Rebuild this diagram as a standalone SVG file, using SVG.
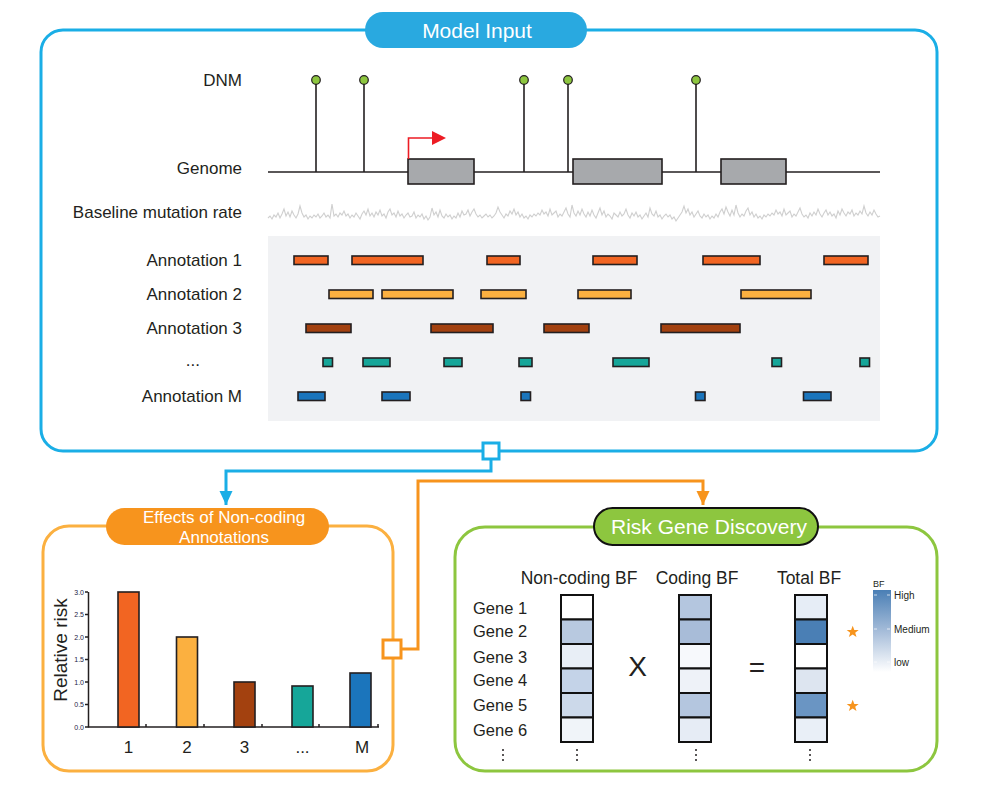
<svg xmlns="http://www.w3.org/2000/svg" width="981" height="793" viewBox="0 0 981 793">
<defs>
<style>
text{font-family:"Liberation Sans",Arial,sans-serif;fill:#231f20}
.lbl{font-size:17px;text-anchor:end}
.pill{fill:#fff;text-anchor:middle}
.bar{stroke:#231f20;stroke-width:1.6}
.a1{fill:#f26522}.a2{fill:#fbb040}.a3{fill:#a3410f}.a4{fill:#16a699}.a5{fill:#1b75bc}
.stem{stroke:#231f20;stroke-width:1.6}
.dot{fill:#8dc63f;stroke:#231f20;stroke-width:1.2}
.gene{fill:#a7a9ac;stroke:#231f20;stroke-width:1.6}
.cell{stroke:#111;stroke-width:2}
.gl{font-size:16.5px}
.tick{font-size:7px;text-anchor:end;fill:#1d2246}
</style>
<marker id="arrB" markerUnits="userSpaceOnUse" markerWidth="14" markerHeight="14" refX="14" refY="6.5" orient="auto"><path d="M0,0 L14,6.5 L0,13 z" fill="#1aaee6"/></marker>
<marker id="arrO" markerUnits="userSpaceOnUse" markerWidth="14" markerHeight="14" refX="14" refY="6.5" orient="auto"><path d="M0,0 L14,6.5 L0,13 z" fill="#f7941d"/></marker>
<linearGradient id="bfg" x1="0" y1="0" x2="0" y2="1"><stop offset="0" stop-color="#4a7fb5"/><stop offset="0.5" stop-color="#a5bcd9"/><stop offset="1" stop-color="#ffffff"/></linearGradient>
</defs>

<g id="model-input">
<rect x="41" y="30" width="896" height="421" rx="22" fill="none" stroke="#1aaee6" stroke-width="3"/>
<rect x="365" y="12" width="222" height="36" rx="18" fill="#29a9e0"/>
<text class="pill" x="477" y="37.5" font-size="21">Model Input</text>
<text class="lbl" x="242" y="86">DNM</text>
<text class="lbl" x="242" y="174">Genome</text>
<text class="lbl" x="242" y="218">Baseline mutation rate</text>
<text class="lbl" x="242" y="266">Annotation 1</text>
<text class="lbl" x="242" y="300">Annotation 2</text>
<text class="lbl" x="242" y="334">Annotation 3</text>
<text class="lbl" x="200" y="366">...</text>
<text class="lbl" x="242" y="402">Annotation M</text>
<line x1="268" y1="172" x2="880" y2="172" stroke="#231f20" stroke-width="1.6"/>
<g class="stem"><line x1="316" y1="80" x2="316" y2="172"/><line x1="364" y1="80" x2="364" y2="172"/><line x1="524" y1="80" x2="524" y2="172"/><line x1="568" y1="80" x2="568" y2="172"/><line x1="696" y1="80" x2="696" y2="172"/></g>
<circle class="dot" cx="316" cy="80" r="4.3"/><circle class="dot" cx="364" cy="80" r="4.3"/><circle class="dot" cx="524" cy="80" r="4.3"/><circle class="dot" cx="568" cy="80" r="4.3"/><circle class="dot" cx="696" cy="80" r="4.3"/>
<rect class="gene" x="408" y="159" width="66" height="25"/>
<rect class="gene" x="573" y="159" width="89" height="25"/>
<rect class="gene" x="721" y="159" width="65" height="25"/>
<path d="M408.5,159 V138 H434" fill="none" stroke="#ed1c24" stroke-width="1.6"/>
<path d="M432,131 L446,138 L432,145 z" fill="#ed1c24"/>
<polyline fill="none" stroke="#cfcfcf" stroke-width="1.1" points="268,218 270,216 272,219 274,215 276,217 278,213 280,218 282,214 284,209 286,216 288,212 290,217 292,211 294,215 296,218 298,214 300,206 302,213 304,217 306,215 308,219 310,216 312,218 314,215 316,217 318,214 320,218 322,216 324,213 326,217 328,215 330,218 332,204 334,216 336,214 338,217 340,213 342,215 344,211 346,216 348,214 350,218 352,215 354,217 356,213 358,216 360,219 362,214 364,211 366,215 368,209 370,216 372,213 374,217 376,212 378,215 380,210 382,216 384,214 386,218 388,212 390,209 392,215 394,213 396,217 398,211 400,216 402,214 404,218 406,215 408,213 410,217 412,216 414,212 416,218 418,215 420,217 422,214 424,219 426,216 428,220 430,217 432,208 434,215 436,212 438,217 440,210 442,216 444,218 446,214 448,217 450,215 452,219 454,216 456,218 458,213 460,217 462,211 464,215 466,214 468,210 470,216 472,212 474,209 476,214 478,217 480,215 482,218 484,216 486,214 488,217 490,215 492,218 494,216 496,213 498,207 500,212 502,215 504,218 506,214 508,216 510,211 512,214 514,209 516,215 518,212 520,217 522,214 524,218 526,216 528,219 530,215 532,217 534,214 536,216 538,213 540,215 542,210 544,214 546,212 548,216 550,209 552,215 554,213 556,211 558,217 560,214 562,216 564,212 566,208 568,214 570,217 572,205 574,213 576,216 578,211 580,215 582,209 584,214 586,217 588,212 590,216 592,210 594,215 596,218 598,213 600,208 602,215 604,211 606,217 608,214 610,216 612,219 614,213 616,215 618,217 620,212 622,216 624,214 626,209 628,215 630,218 632,213 634,216 636,212 638,217 640,215 642,219 644,216 646,213 648,217 650,208 652,214 654,216 656,211 658,217 660,215 662,219 664,216 666,214 668,217 670,215 672,219 674,217 676,221 678,218 680,215 682,212 684,206 686,213 688,209 690,215 692,212 694,217 696,214 698,211 700,216 702,218 704,214 706,217 708,215 710,219 712,216 714,218 716,214 718,217 720,212 722,209 724,214 726,207 728,212 730,216 732,210 734,215 736,205 738,213 740,217 742,214 744,216 746,211 748,208 750,215 752,212 754,217 756,214 758,218 760,216 762,219 764,215 766,217 768,214 770,216 772,213 774,215 776,210 778,214 780,212 782,216 784,209 786,215 788,213 790,211 792,217 794,214 796,216 798,212 800,208 802,214 804,217 806,215 808,218 810,213 812,216 814,212 816,215 818,209 820,214 822,217 824,213 826,210 828,215 830,212 832,216 834,214 836,218 838,211 840,215 842,209 844,213 846,216 848,212 850,214 852,210 854,216 856,213 858,215 860,211 862,214 864,206 866,213 868,216 870,212 872,215 874,210 876,214 878,217 880,216"/>
<rect x="268" y="236" width="612" height="185" fill="#f1f2f4"/>
<g class="bar a1"><rect x="294" y="256" width="34" height="8.5"/><rect x="352" y="256" width="71" height="8.5"/><rect x="487" y="256" width="33" height="8.5"/><rect x="593" y="256" width="44" height="8.5"/><rect x="703" y="256" width="57" height="8.5"/><rect x="824" y="256" width="44" height="8.5"/></g>
<g class="bar a2"><rect x="329" y="290" width="44" height="8.5"/><rect x="382" y="290" width="71" height="8.5"/><rect x="481" y="290" width="45" height="8.5"/><rect x="578" y="290" width="53" height="8.5"/><rect x="741" y="290" width="70" height="8.5"/></g>
<g class="bar a3"><rect x="306" y="324" width="45" height="8.5"/><rect x="431" y="324" width="62" height="8.5"/><rect x="544" y="324" width="45" height="8.5"/><rect x="661" y="324" width="79" height="8.5"/></g>
<g class="bar a4"><rect x="323" y="358" width="9.5" height="8.5"/><rect x="363" y="358" width="27" height="8.5"/><rect x="444" y="358" width="18" height="8.5"/><rect x="519" y="358" width="13" height="8.5"/><rect x="613" y="358" width="36" height="8.5"/><rect x="772" y="358" width="9.5" height="8.5"/><rect x="860" y="358" width="9.5" height="8.5"/></g>
<g class="bar a5"><rect x="298" y="392" width="27" height="8.5"/><rect x="382" y="392" width="28" height="8.5"/><rect x="521" y="392" width="9.5" height="8.5"/><rect x="695.5" y="392" width="9.5" height="8.5"/><rect x="803.5" y="392" width="27.5" height="8.5"/></g>
</g>

<g id="connectors">
<path d="M491,459 V471 H226 V505" fill="none" stroke="#1aaee6" stroke-width="3" marker-end="url(#arrB)"/>
<path d="M402,649 H418 V481 H703 V505" fill="none" stroke="#f7941d" stroke-width="3" marker-end="url(#arrO)"/>
<rect x="483" y="443" width="16" height="16" fill="#fff" stroke="#1aaee6" stroke-width="3"/>
</g>

<g id="effects">
<rect x="43" y="526" width="350" height="245" rx="26" fill="none" stroke="#fbb040" stroke-width="3"/>
<rect x="106" y="508" width="223" height="37" rx="18.5" fill="#f7941d"/>
<text class="pill" x="224" y="523" font-size="17">Effects of Non-coding</text>
<text class="pill" x="224" y="543" font-size="17">Annotations</text>
<rect x="383" y="640" width="18" height="18" fill="#fff" stroke="#f7941d" stroke-width="3"/>
<g stroke="#231f20" stroke-width="1.5">
<line x1="88.5" y1="592" x2="88.5" y2="727.5"/>
<line x1="88" y1="727" x2="379" y2="727"/>
<line x1="85" y1="592" x2="88" y2="592"/><line x1="85" y1="614.5" x2="88" y2="614.5"/><line x1="85" y1="637" x2="88" y2="637"/><line x1="85" y1="659.5" x2="88" y2="659.5"/><line x1="85" y1="682" x2="88" y2="682"/><line x1="85" y1="704.5" x2="88" y2="704.5"/><line x1="85" y1="727" x2="88" y2="727"/>
<line x1="146" y1="724" x2="146" y2="727"/><line x1="204" y1="724" x2="204" y2="727"/><line x1="262" y1="724" x2="262" y2="727"/><line x1="319" y1="724" x2="319" y2="727"/><line x1="378" y1="724" x2="378" y2="727"/>
</g>
<text class="tick" x="84" y="594.5">3.0</text><text class="tick" x="84" y="617">2.5</text><text class="tick" x="84" y="639.5">2.0</text><text class="tick" x="84" y="662">1.5</text><text class="tick" x="84" y="684.5">1.0</text><text class="tick" x="84" y="707">0.5</text><text class="tick" x="84" y="729.5">0.0</text>
<text x="67" y="650" font-size="19" text-anchor="middle" transform="rotate(-90 67 650)">Relative risk</text>
<g class="bar" stroke-width="2"><rect class="a1" x="118" y="592" width="21" height="135"/><rect class="a2" x="176.5" y="637" width="21" height="90"/><rect class="a3" x="234" y="682" width="21" height="45"/><rect class="a4" x="292" y="686" width="21" height="41"/><rect class="a5" x="350" y="673" width="21" height="54"/></g>
<g font-size="17" text-anchor="middle"><text x="128.5" y="753">1</text><text x="187" y="753">2</text><text x="244.5" y="753">3</text><text x="302.5" y="753">...</text><text x="362" y="753">M</text></g>
</g>

<g id="risk-gene">
<rect x="455" y="527" width="482" height="244" rx="30" fill="none" stroke="#8dc63f" stroke-width="3"/>
<rect x="594" y="508" width="224" height="37" rx="18.5" fill="#8dc63f" stroke="#111" stroke-width="2"/>
<text class="pill" x="709" y="534" font-size="21">Risk Gene Discovery</text>
<g font-size="17.5" text-anchor="middle"><text x="579" y="584">Non-coding BF</text><text x="697" y="584">Coding BF</text><text x="809" y="584">Total BF</text></g>
<g class="gl"><text x="473" y="614">Gene 1</text><text x="473" y="637">Gene 2</text><text x="473" y="663">Gene 3</text><text x="473" y="686">Gene 4</text><text x="473" y="711">Gene 5</text><text x="473" y="736">Gene 6</text></g>
<g class="cell">
<rect x="561" y="595" width="32" height="24.5" fill="#ffffff"/><rect x="561" y="619.5" width="32" height="24.5" fill="#b8c9e0"/><rect x="561" y="644" width="32" height="24.5" fill="#e8eef6"/><rect x="561" y="668.5" width="32" height="24.5" fill="#c4d3e8"/><rect x="561" y="693" width="32" height="24.5" fill="#ccd9ea"/><rect x="561" y="717.5" width="32" height="24.5" fill="#f0f4f9"/>
<rect x="679" y="595" width="32" height="24.5" fill="#b4c6df"/><rect x="679" y="619.5" width="32" height="24.5" fill="#a8bcd8"/><rect x="679" y="644" width="32" height="24.5" fill="#f7f9fc"/><rect x="679" y="668.5" width="32" height="24.5" fill="#eef2f8"/><rect x="679" y="693" width="32" height="24.5" fill="#b4c6df"/><rect x="679" y="717.5" width="32" height="24.5" fill="#e6ecf5"/>
<rect x="795" y="595" width="32" height="24.5" fill="#e6edf6"/><rect x="795" y="619.5" width="32" height="24.5" fill="#4a7fb5"/><rect x="795" y="644" width="32" height="24.5" fill="#ffffff"/><rect x="795" y="668.5" width="32" height="24.5" fill="#dde5f0"/><rect x="795" y="693" width="32" height="24.5" fill="#6a95c3"/><rect x="795" y="717.5" width="32" height="24.5" fill="#e9eff7"/>
</g>
<text x="637.5" y="676" font-size="28" text-anchor="middle">X</text>
<text x="757" y="677" font-size="28" text-anchor="middle">=</text>
<g fill="#231f20"><circle cx="503" cy="750" r="1"/><circle cx="503" cy="755" r="1"/><circle cx="503" cy="760" r="1"/><circle cx="577" cy="750" r="1"/><circle cx="577" cy="755" r="1"/><circle cx="577" cy="760" r="1"/><circle cx="696" cy="750" r="1"/><circle cx="696" cy="755" r="1"/><circle cx="696" cy="760" r="1"/><circle cx="810" cy="750" r="1"/><circle cx="810" cy="755" r="1"/><circle cx="810" cy="760" r="1"/></g>
<path d="M852.7,625.7 L854.3,630 L858.7,630 L855.2,632.7 L856.5,637 L852.7,634.4 L848.9,637 L850.2,632.7 L846.7,630 L851.1,630 z" fill="#f7941d"/>
<path d="M852.7,699.7 L854.3,704 L858.7,704 L855.2,706.7 L856.5,711 L852.7,708.4 L848.9,711 L850.2,706.7 L846.7,704 L851.1,704 z" fill="#f7941d"/>
<text x="873" y="587" font-size="9">BF</text>
<rect x="873" y="590" width="18" height="82" fill="url(#bfg)"/>
<g stroke="#fff" stroke-width="1" opacity="0.7"><line x1="874" y1="595" x2="877" y2="595"/><line x1="887" y1="595" x2="890" y2="595"/><line x1="874" y1="629" x2="877" y2="629"/><line x1="887" y1="629" x2="890" y2="629"/><line x1="874" y1="662" x2="877" y2="662"/><line x1="887" y1="662" x2="890" y2="662"/></g>
<g font-size="10"><text x="894" y="599">High</text><text x="894" y="633">Medium</text><text x="894" y="666">low</text></g>
</g>
</svg>
